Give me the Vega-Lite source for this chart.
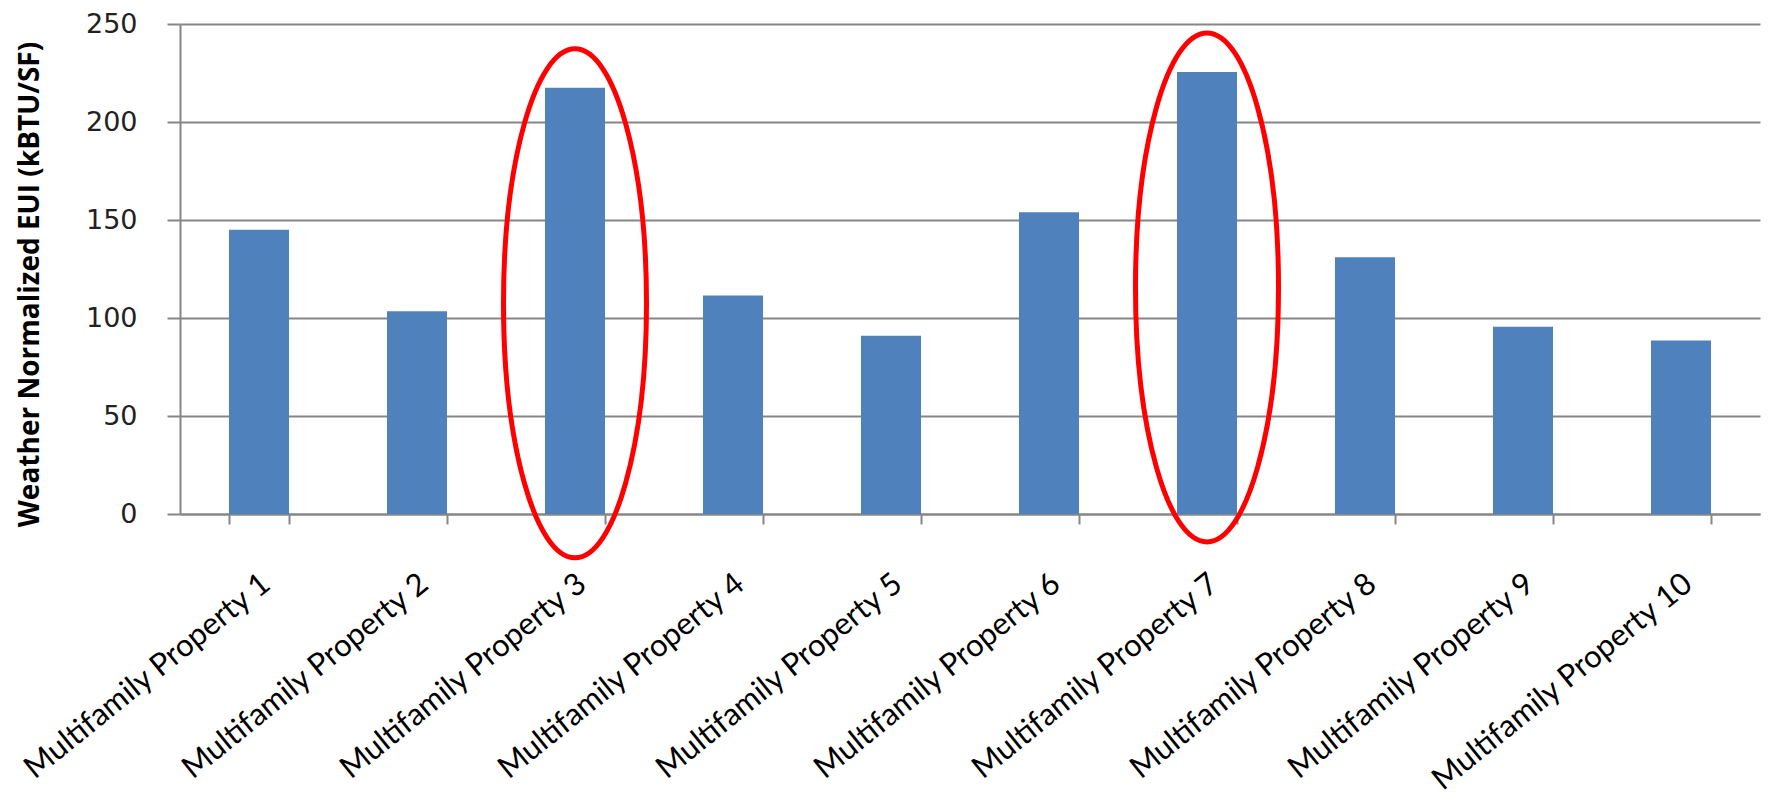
{
  "$schema": "https://vega.github.io/schema/vega-lite/v6.json",
  "width": 1580,
  "height": 490,
  "autosize": {"type": "none"},
  "padding": {"left": 180, "top": 24, "right": 11, "bottom": 289},
  "background": "white",
  "config": {"view": {"stroke": null}},
  "datasets": {
    "bars": [
      {"property": "Multifamily Property 1", "eui": 145},
      {"property": "Multifamily Property 2", "eui": 103.5},
      {"property": "Multifamily Property 3", "eui": 217.5},
      {"property": "Multifamily Property 4", "eui": 111.5},
      {"property": "Multifamily Property 5", "eui": 91},
      {"property": "Multifamily Property 6", "eui": 154},
      {"property": "Multifamily Property 7", "eui": 225.5},
      {"property": "Multifamily Property 8", "eui": 131},
      {"property": "Multifamily Property 9", "eui": 95.5},
      {"property": "Multifamily Property 10", "eui": 88.5}
    ],
    "highlights": [
      {"property": "Multifamily Property 3", "center": 107.5},
      {"property": "Multifamily Property 7", "center": 115.6}
    ]
  },
  "layer": [
    {
      "data": {"name": "bars"},
      "mark": {"type": "bar", "color": "#4f81bd"},
      "encoding": {
        "x": {
          "field": "property",
          "type": "nominal",
          "sort": null,
          "scale": {
            "domain": ["Multifamily Property 1", "Multifamily Property 2", "Multifamily Property 3", "Multifamily Property 4", "Multifamily Property 5", "Multifamily Property 6", "Multifamily Property 7", "Multifamily Property 8", "Multifamily Property 9", "Multifamily Property 10"],
            "paddingInner": 0.62,
            "paddingOuter": 0.31
          },
          "axis": {
            "title": null,
            "labelAngle": -39,
            "labelAlign": "right",
            "labelBaseline": "middle",
            "labelFont": "Lato",
            "labelFontSize": 31,
            "labelColor": "#000000",
            "labelPadding": 56,
            "labelOffset": 7,
            "labelLimit": 0,
            "domainColor": "#868686",
            "domainWidth": 2,
            "tickColor": "#868686",
            "tickWidth": 2,
            "tickSize": 10,
            "tickBand": "extent",
            "grid": false
          }
        },
        "y": {
          "field": "eui",
          "type": "quantitative",
          "scale": {"domain": [0, 250], "nice": false},
          "axis": {
            "values": [0, 50, 100, 150, 200, 250],
            "title": "Weather Normalized EUI (kBTU/SF)",
            "titleFont": "Open Sans",
            "titleFontWeight": "bold",
            "titleFontSize": 28,
            "titleColor": "#000000",
            "titleAngle": -90,
            "titleAlign": "center",
            "titleBaseline": "middle",
            "titleX": -150,
            "titleY": 260,
            "labelFont": "DejaVu Sans",
            "labelFontSize": 27,
            "labelColor": "#222222",
            "labelPadding": 30,
            "domainColor": "#868686",
            "domainWidth": 2,
            "tickColor": "#868686",
            "tickWidth": 2,
            "tickSize": 13,
            "grid": true,
            "gridColor": "#868686",
            "gridWidth": 2
          }
        }
      }
    },
    {
      "data": {"name": "highlights"},
      "mark": {
        "type": "point",
        "shape": "M -0.281 0 A 0.281 1 0 1 0 0.281 0 A 0.281 1 0 1 0 -0.281 0 Z",
        "filled": false,
        "stroke": "#ff0000",
        "strokeWidth": 5,
        "opacity": 1,
        "size": 259081,
        "clip": false
      },
      "encoding": {
        "x": {"field": "property", "type": "nominal", "sort": null},
        "y": {"field": "center", "type": "quantitative"}
      }
    }
  ]
}
